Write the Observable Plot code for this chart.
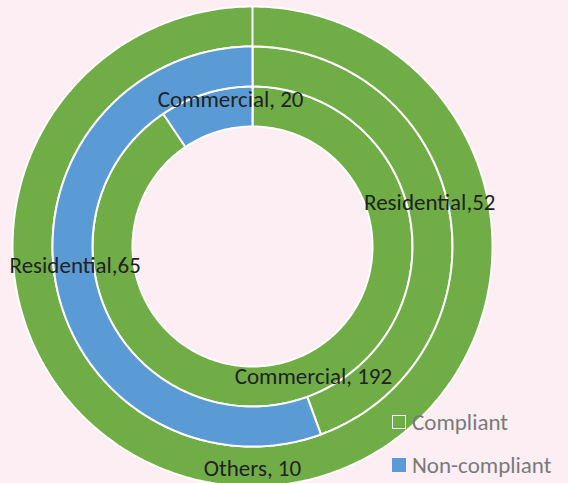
<!DOCTYPE html>
<html><head><meta charset="utf-8">
<script src="https://cdn.jsdelivr.net/npm/d3@7"></script>
<script src="https://cdn.jsdelivr.net/npm/@observablehq/plot@0.6"></script>
<style>
html,body{margin:0;padding:0;background:#FDEEF4;}
#wrap{position:relative;width:568px;height:483px;overflow:hidden;background:#FDEEF4;}
#wrap svg{position:absolute;left:0;top:0;}
.legend{position:absolute;left:392px;font-family:Carlito,Lato,sans-serif;font-size:23px;color:#7a7a7a;display:flex;align-items:center;white-space:nowrap;height:14px;}
.sw{width:14px;height:14px;box-sizing:border-box;margin-right:6px;flex:none;}
</style></head><body><div id="wrap"></div>
<script>
// Data (inner ring -> outer ring)
const rings = ["Commercial", "Residential", "Others"];
const ringLabelPrefix = ["Commercial, ", "Residential,", "Others, "];
const statuses = ["Compliant", "Non-compliant"];
const compliant = [192, 52, 10];
const nonCompliant = [20, 65, 0];
const colors = ["#70AD47", "#5B9BD5"];

// Layout
const W = 568, H = 483, cx = 252, cy = 246, R = 240, hole = 0.5;
const ringW = R * (1 - hole) / rings.length;

const slices = [];
rings.forEach((ring, i) => {
  const vals = [compliant[i], nonCompliant[i]];
  const total = d3.sum(vals);
  const r0 = R * hole + i * ringW, r1 = r0 + ringW;
  let acc = 0;
  vals.forEach((v, j) => {
    if (v <= 0) { return; }
    const a0 = acc / total * 2 * Math.PI;
    acc += v;
    const a1 = acc / total * 2 * Math.PI;
    slices.push({id: ring + "-" + statuses[j], ring, status: statuses[j], value: v, r0, r1, a0, a1,
      label: ringLabelPrefix[i] + v});
  });
});

const pts = [];
for (const s of slices) {
  const n = Math.max(2, Math.ceil((s.a1 - s.a0) / (Math.PI / 180)));
  for (let k = 0; k <= n; k++) {
    const a = s.a0 + (s.a1 - s.a0) * k / n;
    pts.push({id: s.id, status: s.status, x: s.r1 * Math.sin(a), y: s.r1 * Math.cos(a)});
  }
  for (let k = n; k >= 0; k--) {
    const a = s.a0 + (s.a1 - s.a0) * k / n;
    pts.push({id: s.id, status: s.status, x: s.r0 * Math.sin(a), y: s.r0 * Math.cos(a)});
  }
  pts.push({...pts[pts.length - 2 * (n + 1)]});
}

const centroids = slices.map(s => {
  const a = (s.a0 + s.a1) / 2, r = (s.r0 + s.r1) / 2;
  return {id: s.id, label: s.label, x: r * Math.sin(a), y: r * Math.cos(a)};
});

// label nudges (Excel's label placement)
const nudges = {
  "Commercial-Compliant": [20, -4],
  "Commercial-Non-compliant": [19, -13],
  "Residential-Compliant": [0, -13],
  "Residential-Non-compliant": [0, -12],
  "Others-Compliant": [0, 2]
};

const font = "Carlito, Lato, sans-serif";
const marks = [];
statuses.forEach((st, j) => {
  marks.push(Plot.line(pts.filter(p => p.status === st), {
    x: "x", y: "y", z: "id", fill: colors[j], stroke: "white", strokeWidth: 2, strokeLinejoin: "miter", curve: "linear"
  }));
});
for (const c of centroids) {
  const [dx, dy] = nudges[c.id] || [0, 0];
  marks.push(Plot.text([c], {x: "x", y: "y", text: "label", dx, dy, fill: "#222222",
    fontSize: 23, fontFamily: font}));
}

const chart = Plot.plot({
  width: W, height: H, margin: 0,
  x: {domain: [-cx, W - cx], axis: null},
  y: {domain: [-(H - cy), cy], axis: null},
  style: {background: "transparent", overflow: "visible"},
  marks
});
const wrap = document.getElementById("wrap");
wrap.appendChild(chart);

// Legend
const legendTops = [415, 458];
statuses.forEach((st, j) => {
  const d = document.createElement("div");
  d.className = "legend";
  d.style.top = legendTops[j] + "px";
  const sw = document.createElement("span");
  sw.className = "sw";
  if (j === 0) { sw.style.border = "1.5px solid white"; }
  else { sw.style.background = colors[j]; }
  d.appendChild(sw);
  d.appendChild(document.createTextNode(st));
  wrap.appendChild(d);
});
</script></body></html>
